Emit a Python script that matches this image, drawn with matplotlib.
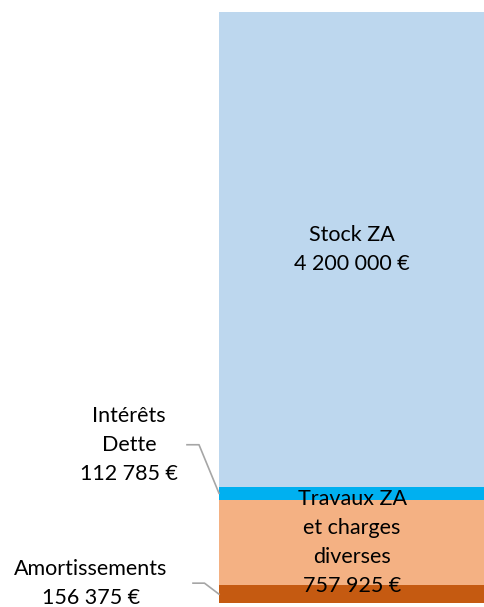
import matplotlib
matplotlib.use("Agg")
import matplotlib.pyplot as plt
from matplotlib.lines import Line2D

# stacked bar, bottom to top
labels = ["Amortissements", "Travaux ZA\net charges\ndiverses", "Intérêts\nDette", "Stock ZA"]
values = [156375, 757925, 112785, 4200000]
colors = ["#C55A11", "#F4B183", "#00B0F0", "#BDD7EE"]
inside = [False, True, False, True]


def fmt(v):
    return f"{v:,}".replace(",", " ") + " €"


plt.rcParams["font.family"] = ["Lato", "DejaVu Sans"]
FS = 15.5
LS = 1.55

fig = plt.figure(figsize=(4.85, 6.07), dpi=100)
ax = fig.add_axes([219 / 485, 4 / 607, 1 - 219 / 485, 591 / 607])

bottoms = []
b = 0
for v in values:
    bottoms.append(b)
    b += v

ax.bar(0, values, bottom=bottoms, width=1.2, color=colors, linewidth=0)
ax.set_xlim(-0.5, 0.5)
ax.set_ylim(0, sum(values))
ax.axis("off")

# outside labels: leader start, bend and text offsets (pixels)
outside_off = {0: [(-26, 11), (-14.5, 11), (-128, 11)],
               2: [(-32, 48.5), (-20, 48.5), (-90, 48.5)]}

for i, (lab, v) in enumerate(zip(labels, values)):
    yc = bottoms[i] + v / 2
    txt = lab + "\n" + fmt(v)
    if inside[i]:
        ax.text(0.0, yc, txt, ha="center", va="center", fontsize=FS,
                linespacing=LS, color="black")
    else:
        x0, y0 = ax.transData.transform((-0.5, yc))
        start, bend, toff = outside_off[i]
        xs = [x0 + start[0], x0 + bend[0], x0]
        ys = [y0 + start[1], y0 + bend[1], y0]
        fig.add_artist(Line2D(xs, ys, transform=None, color="#A6A6A6", lw=1.2))
        fig.text(x0 + toff[0], y0 + toff[1], txt, transform=None,
                 ha="center", va="center", fontsize=FS, linespacing=LS,
                 color="black")

fig.savefig("out.png", dpi=100)
